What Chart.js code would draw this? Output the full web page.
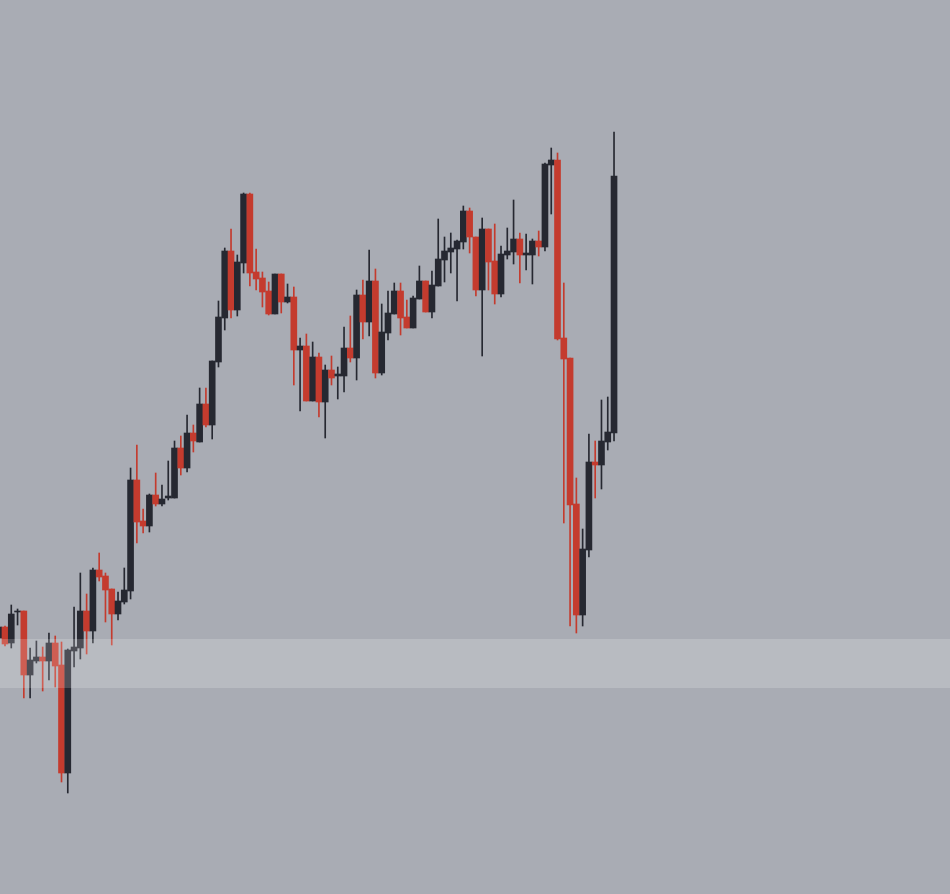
<!DOCTYPE html>
<html>
<head>
<meta charset="utf-8">
<script src="https://cdn.jsdelivr.net/npm/chart.js@4.4.1/dist/chart.umd.min.js"></script>
<style>
  html, body { margin: 0; padding: 0; background: #a9acb4; }
  #wrap { width: 950px; height: 894px; position: relative; }
</style>
</head>
<body>
<div id="wrap"><canvas id="candles"></canvas></div>
<script>
// OHLC values, one entry per session
const opens = [
  25.6, 26.7, 25.1, 28.2, 28.3, 21.9, 23.3, 23.7, 23.3, 25.1,
  22.9, 12.1, 24.3, 24.6, 28.3, 26.3, 32.4, 31.8, 30.5, 28.0,
  29.2, 30.3, 41.4, 37.3, 36.8, 39.9, 39.0, 39.6, 39.6, 44.6,
  42.6, 46.1, 45.2, 49.0, 46.9, 53.2, 57.6, 64.3, 58.4, 63.1,
  70.0, 62.2, 61.6, 60.3, 58.0, 62.0, 59.2, 59.7, 54.4, 54.8,
  49.3, 53.7, 49.2, 52.4, 51.8, 51.8, 54.6, 53.6, 59.9, 57.2,
  61.3, 52.1, 56.1, 58.0, 60.3, 57.7, 56.6, 59.5, 61.3, 58.2,
  60.8, 63.4, 64.2, 64.5, 65.2, 68.3, 65.7, 60.4, 66.5, 63.3,
  60.0, 63.9, 64.2, 65.5, 63.9, 63.9, 65.3, 64.7, 72.9, 73.4,
  55.6, 53.6, 39.0, 27.9, 34.4, 43.2, 42.9, 45.2, 46.1
];
const highs = [
  26.8, 26.8, 28.9, 28.5, 28.3, 24.6, 25.3, 24.7, 26.1, 25.8,
  25.2, 24.5, 28.7, 32.1, 30.0, 32.6, 34.1, 32.1, 30.5, 30.2,
  32.6, 42.6, 44.9, 38.5, 40.0, 42.1, 40.9, 43.3, 45.3, 45.8,
  47.9, 46.9, 50.6, 50.6, 53.3, 59.3, 64.6, 66.5, 63.9, 70.1,
  70.1, 64.5, 62.2, 61.2, 62.0, 62.0, 61.0, 60.7, 55.6, 56.0,
  55.2, 54.1, 52.9, 53.8, 52.7, 56.7, 57.8, 60.4, 61.4, 64.4,
  62.5, 59.0, 60.3, 61.1, 61.1, 59.4, 59.8, 62.8, 61.3, 62.3,
  67.5, 65.7, 66.1, 65.4, 68.8, 68.6, 65.7, 67.6, 66.5, 67.0,
  64.8, 66.6, 69.4, 66.1, 66.0, 65.5, 66.3, 73.1, 74.6, 74.1,
  61.1, 53.6, 41.6, 36.5, 46.0, 45.3, 49.4, 49.7, 76.2
];
const lows = [
  25.4, 24.8, 24.6, 26.9, 19.6, 19.6, 23.1, 20.3, 21.4, 20.7,
  11.2, 10.1, 22.7, 23.5, 24.0, 25.1, 31.3, 27.2, 24.9, 27.4,
  29.0, 29.5, 35.1, 36.1, 36.2, 38.8, 38.8, 39.4, 39.6, 41.9,
  42.2, 44.2, 45.2, 46.7, 45.5, 52.7, 56.4, 57.6, 57.8, 62.1,
  60.8, 60.4, 58.7, 57.9, 58.0, 58.1, 59.1, 50.9, 48.3, 49.3,
  49.3, 47.7, 45.6, 50.9, 49.5, 50.2, 53.2, 51.4, 55.5, 55.8,
  51.6, 51.9, 55.4, 58.0, 55.9, 56.6, 56.6, 59.5, 58.2, 57.6,
  60.8, 61.2, 62.1, 59.3, 64.5, 64.1, 59.8, 53.8, 60.4, 59.0,
  59.7, 63.5, 63.0, 61.1, 62.4, 61.0, 63.8, 64.3, 68.0, 55.4,
  37.1, 26.8, 26.1, 26.8, 33.7, 39.6, 40.5, 44.4, 45.3
];
const closes = [
  26.7, 25.0, 28.0, 28.3, 21.9, 23.4, 23.7, 23.3, 25.1, 22.8,
  12.1, 24.4, 24.7, 28.3, 26.3, 32.4, 31.7, 30.4, 28.0, 29.3,
  30.4, 41.4, 37.2, 36.8, 39.9, 39.0, 39.5, 39.8, 44.6, 42.6,
  46.1, 45.3, 49.0, 46.9, 53.3, 57.7, 64.3, 58.4, 63.2, 70.0,
  62.1, 61.5, 60.2, 58.0, 62.0, 59.2, 59.7, 54.4, 54.8, 49.3,
  53.7, 49.2, 52.4, 51.6, 52.0, 54.6, 53.6, 59.9, 57.2, 61.3,
  52.1, 56.2, 58.1, 60.3, 57.6, 56.6, 59.6, 61.3, 58.2, 60.9,
  63.5, 64.3, 64.6, 65.3, 68.3, 65.7, 60.4, 66.5, 63.2, 60.0,
  64.0, 64.3, 65.5, 63.9, 64.1, 65.3, 64.7, 73.0, 73.4, 55.5,
  53.5, 38.9, 27.9, 34.5, 43.2, 42.9, 45.3, 46.2, 71.8
];
const sessions = opens.map((_, i) => i);

// shaded price zone
const zoneLow = 20.6;
const zoneHigh = 25.5;

const UP_COLOR = "#262831";
const DOWN_COLOR = "#c43b2e";

const candleColor = (i) => (closes[i] >= opens[i] ? UP_COLOR : DOWN_COLOR);

const zonePlugin = {
  id: "zone",
  afterDatasetsDraw(chart) {
    const { ctx, chartArea, scales } = chart;
    const top = scales.y.getPixelForValue(zoneHigh);
    const bottom = scales.y.getPixelForValue(zoneLow);
    ctx.save();
    ctx.fillStyle = "rgba(255, 255, 255, 0.18)";
    ctx.fillRect(chartArea.left, top, chartArea.right - chartArea.left, bottom - top);
    ctx.restore();
  },
};

new Chart(document.getElementById("candles"), {
  type: "bar",
  data: {
    datasets: [
      {
        label: "body",
        data: sessions.map((i) => ({ x: i, y: [opens[i], closes[i]] })),
        backgroundColor: sessions.map(candleColor),
        barThickness: 6,
        minBarLength: 1,
        grouped: false,
        order: 1,
      },
      {
        label: "wick",
        data: sessions.map((i) => ({ x: i, y: [lows[i], highs[i]] })),
        backgroundColor: sessions.map(candleColor),
        barThickness: 1,
        grouped: false,
        order: 2,
      },
    ],
  },
  options: {
    responsive: true,
    maintainAspectRatio: false,
    animation: false,
    layout: { padding: 0 },
    plugins: {
      legend: { display: false },
      tooltip: { enabled: false },
    },
    scales: {
      x: {
        type: "linear",
        display: false,
        offset: false,
        grid: { offset: false },
        min: 0.204,
        max: 151.51,
      },
      y: { display: false, min: 0, max: 89.4 },
    },
  },
  plugins: [zonePlugin],
});
</script>
</body>
</html>
